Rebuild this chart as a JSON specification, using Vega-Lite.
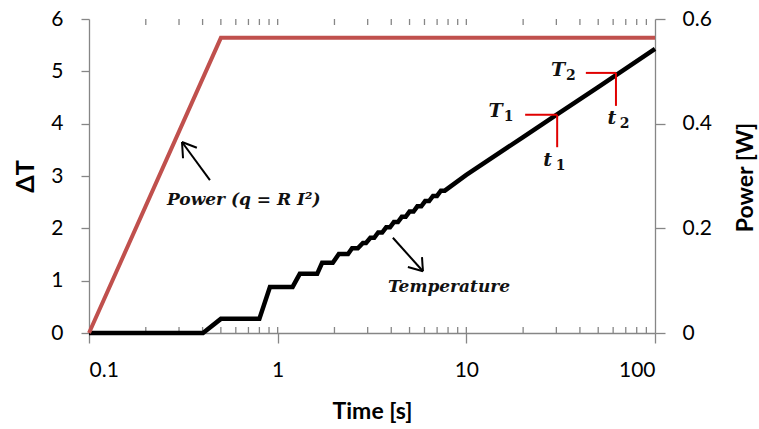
{
  "$schema": "https://vega.github.io/schema/vega-lite/v6.json",
  "width": 566,
  "height": 314,
  "autosize": "none",
  "padding": {"left": 89, "top": 19, "right": 104, "bottom": 96},
  "background": "white",
  "config": {
    "view": {"stroke": null},
    "axis": {"grid": false, "domainColor": "#868686", "tickColor": "#868686", "labelFont": "Lato", "labelFontSize": 21, "labelColor": "#000", "titleFont": "Lato", "titleFontWeight": "bold", "titleColor": "#000", "domainWidth": 1.3, "tickWidth": 1.3}
  },
  "datasets": {
    "temp": [
      {"t": 0.1, "dT": 0}, {"t": 0.402, "dT": 0}, {"t": 0.5, "dT": 0.27}, {"t": 0.8, "dT": 0.27},
      {"t": 0.91, "dT": 0.88}, {"t": 1.2, "dT": 0.88}, {"t": 1.31, "dT": 1.13}, {"t": 1.62, "dT": 1.13},
      {"t": 1.72, "dT": 1.34}, {"t": 1.96, "dT": 1.34}, {"t": 2.11, "dT": 1.51}, {"t": 2.36, "dT": 1.51},
      {"t": 2.48, "dT": 1.62}, {"t": 2.66, "dT": 1.62}, {"t": 2.83, "dT": 1.72}, {"t": 2.94, "dT": 1.72},
      {"t": 3.1, "dT": 1.82}, {"t": 3.25, "dT": 1.82}, {"t": 3.41, "dT": 1.92}, {"t": 3.58, "dT": 1.92},
      {"t": 3.76, "dT": 2.02}, {"t": 3.94, "dT": 2.02}, {"t": 4.13, "dT": 2.12}, {"t": 4.34, "dT": 2.12},
      {"t": 4.55, "dT": 2.22}, {"t": 4.77, "dT": 2.22}, {"t": 5.0, "dT": 2.32}, {"t": 5.25, "dT": 2.32},
      {"t": 5.5, "dT": 2.42}, {"t": 5.77, "dT": 2.42}, {"t": 6.05, "dT": 2.52}, {"t": 6.35, "dT": 2.52},
      {"t": 6.66, "dT": 2.62}, {"t": 6.99, "dT": 2.62}, {"t": 7.33, "dT": 2.72}, {"t": 7.69, "dT": 2.72},
      {"t": 10, "dT": 3.02}, {"t": 20, "dT": 3.745}, {"t": 30, "dT": 4.17}, {"t": 50, "dT": 4.7}, {"t": 100, "dT": 5.43}
    ],
    "power": [
      {"t": 0.1, "p": 0}, {"t": 0.5, "p": 0.564}, {"t": 100, "p": 0.564}
    ],
    "marks": [
      {"t": 20.5, "dT": 4.17, "t2": 30.3, "dT2": 4.17},
      {"t": 30.3, "dT": 4.17, "t2": 30.3, "dT2": 3.55},
      {"t": 43.0, "dT": 4.97, "t2": 62.1, "dT2": 4.97},
      {"t": 62.1, "dT": 4.97, "t2": 62.1, "dT2": 4.34}
    ],
    "arrows": [
      {"t": 0.4375, "dT": 2.92, "t2": 0.311, "dT2": 3.65},
      {"t": 0.311, "dT": 3.65, "t2": 0.315, "dT2": 3.34},
      {"t": 0.311, "dT": 3.65, "t2": 0.373, "dT2": 3.54},
      {"t": 4.08, "dT": 1.82, "t2": 5.89, "dT2": 1.18},
      {"t": 5.89, "dT": 1.18, "t2": 4.9, "dT2": 1.26},
      {"t": 5.89, "dT": 1.18, "t2": 5.82, "dT2": 1.45}
    ],
    "symbols": [
      {"t": 14.3, "dT": 4.25, "letter": "T", "sub": "1"},
      {"t": 27.0, "dT": 3.3, "letter": "t", "sub": "1"},
      {"t": 30.6, "dT": 5.02, "letter": "T", "sub": "2"},
      {"t": 59.0, "dT": 4.1, "letter": "t", "sub": "2"}
    ],
    "names": [
      {"t": 0.259, "dT": 2.54, "label": "Power (q = R I²)"},
      {"t": 3.84, "dT": 0.88, "label": "Temperature"}
    ],
    "minor": [
      {"t": 0.2}, {"t": 0.3}, {"t": 0.4}, {"t": 0.5}, {"t": 0.6}, {"t": 0.7}, {"t": 0.8}, {"t": 0.9},
      {"t": 1}, {"t": 2}, {"t": 3}, {"t": 4}, {"t": 5}, {"t": 6}, {"t": 7}, {"t": 8}, {"t": 9},
      {"t": 10}, {"t": 20}, {"t": 30}, {"t": 40}, {"t": 50}, {"t": 60}, {"t": 70}, {"t": 80}, {"t": 90}
    ]
  },
  "resolve": {"scale": {"y": "independent"}},
  "layer": [
    {
      "layer": [
        {
          "data": {"name": "minor"},
          "mark": {"type": "rule", "color": "#868686", "strokeWidth": 1.3},
          "encoding": {
            "x": {"field": "t", "type": "quantitative"},
            "y": {"datum": 0},
            "y2": {"datum": 0.115}
          }
        },
        {
          "data": {"name": "minor"},
          "mark": {"type": "rule", "color": "#868686", "strokeWidth": 1.3},
          "encoding": {
            "x": {"field": "t", "type": "quantitative"},
            "y": {"datum": 6},
            "y2": {"datum": 5.885}
          }
        },
        {
          "data": {"name": "temp"},
          "mark": {"type": "line", "color": "#000", "strokeWidth": 4.5, "strokeJoin": "miter"},
          "encoding": {
            "x": {"field": "t", "type": "quantitative", "scale": {"type": "log", "domain": [0.1, 100], "nice": false},
              "axis": {"values": [0.1, 1, 10, 100], "labelExpr": "datum.value", "tickSize": 10, "labelPadding": 16, "labelBaseline": "top", "title": "Time [s]", "titleFontSize": 23, "titleX": 283, "titleY": 78, "titleBaseline": "middle", "titleAlign": "center"}},
            "y": {"field": "dT", "type": "quantitative", "scale": {"domain": [0, 6], "nice": false},
              "axis": {"orient": "left", "values": [0, 1, 2, 3, 4, 5, 6], "tickSize": 8, "labelPadding": 18, "title": "ΔT", "titleFontSize": 25, "titleX": -64, "titleY": 157, "titleAngle": 270, "titleBaseline": "middle", "titleAlign": "center"}}
          }
        },
        {
          "data": {"name": "marks"},
          "mark": {"type": "rule", "color": "#e00000", "strokeWidth": 2},
          "encoding": {
            "x": {"field": "t", "type": "quantitative"},
            "x2": {"field": "t2"},
            "y": {"field": "dT", "type": "quantitative"},
            "y2": {"field": "dT2"}
          }
        },
        {
          "data": {"name": "arrows"},
          "mark": {"type": "rule", "color": "#000", "strokeWidth": 2},
          "encoding": {
            "x": {"field": "t", "type": "quantitative"},
            "x2": {"field": "t2"},
            "y": {"field": "dT", "type": "quantitative"},
            "y2": {"field": "dT2"}
          }
        },
        {
          "data": {"name": "symbols"},
          "mark": {"type": "text", "font": "DejaVu Serif", "fontStyle": "italic", "fontWeight": "bold", "fontSize": 19, "color": "#111", "align": "center", "baseline": "middle"},
          "encoding": {
            "x": {"field": "t", "type": "quantitative"},
            "y": {"field": "dT", "type": "quantitative"},
            "text": {"field": "letter"}
          }
        },
        {
          "data": {"name": "symbols"},
          "mark": {"type": "text", "font": "DejaVu Serif", "fontWeight": "bold", "fontSize": 14, "color": "#111", "align": "left", "baseline": "middle", "dx": 8, "dy": 6},
          "encoding": {
            "x": {"field": "t", "type": "quantitative"},
            "y": {"field": "dT", "type": "quantitative"},
            "text": {"field": "sub"}
          }
        },
        {
          "data": {"name": "names"},
          "mark": {"type": "text", "font": "DejaVu Serif", "fontStyle": "italic", "fontWeight": "bold", "fontSize": 17, "color": "#111", "align": "left", "baseline": "middle"},
          "encoding": {
            "x": {"field": "t", "type": "quantitative"},
            "y": {"field": "dT", "type": "quantitative"},
            "text": {"field": "label"}
          }
        }
      ]
    },
    {
      "data": {"name": "power"},
      "mark": {"type": "line", "color": "#c0504d", "strokeWidth": 4},
      "encoding": {
        "x": {"field": "t", "type": "quantitative"},
        "y": {"field": "p", "type": "quantitative", "scale": {"domain": [0, 0.6], "nice": false},
          "axis": {"orient": "right", "values": [0, 0.2, 0.4, 0.6], "labelExpr": "datum.value", "tickSize": 10, "labelPadding": 17, "title": "Power [W]", "titleFontSize": 23, "titleX": 90, "titleY": 158, "titleAngle": 270, "titleBaseline": "middle", "titleAlign": "center"}}
      }
    }
  ]
}
